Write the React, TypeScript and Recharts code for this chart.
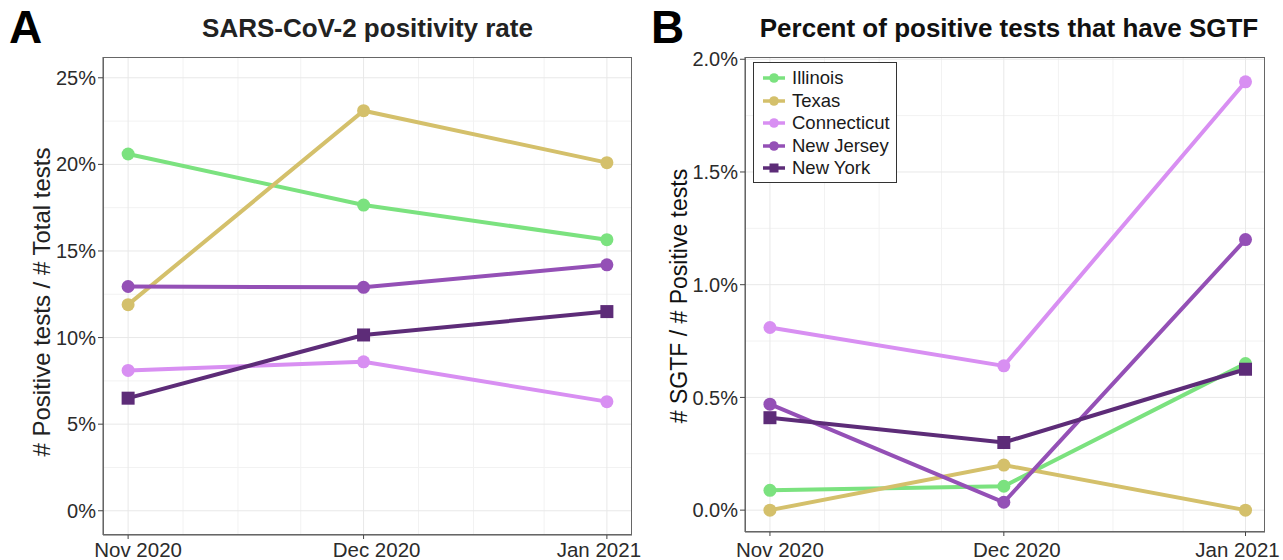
import { LineChart, Line, XAxis, YAxis, CartesianGrid } from "recharts";

// x positions are days since Nov 1 2020
const months = ["Nov 2020", "Dec 2020", "Jan 2021"];
const monthDays = [0, 30, 61];
const weekDays = [7, 14, 22, 37, 44, 53];

const states = ["Illinois", "Texas", "Connecticut", "New Jersey", "New York"];
const stateColors = ["#7be27f", "#d4c06b", "#d88ff2", "#9450b6", "#5d2c78"];

// panel A: positivity rate (%)
const posIllinois = [20.6, 17.65, 15.65];
const posTexas = [11.9, 23.1, 20.1];
const posConnecticut = [8.1, 8.6, 6.3];
const posNewJersey = [12.95, 12.9, 14.2];
const posNewYork = [6.5, 10.15, 11.5];

// panel B: SGTF share of positives (%)
const sgtfIllinois = [0.088, 0.106, 0.65];
const sgtfTexas = [0.0, 0.2, 0.0];
const sgtfConnecticut = [0.81, 0.64, 1.9];
const sgtfNewJersey = [0.47, 0.035, 1.2];
const sgtfNewYork = [0.41, 0.3, 0.625];

const posTicks = [0, 5, 10, 15, 20, 25];
const posMinor = [2.5, 7.5, 12.5, 17.5, 22.5];
const sgtfTicks = [0, 0.5, 1.0, 1.5, 2.0];
const sgtfMinor = [0.25, 0.75, 1.25, 1.75];

const FONT = "'Liberation Sans', Arial, sans-serif";

// the month labels sit a little off their ticks in the original
const labelShift = [10, 13, -8];

function buildRows(series: number[][]) {
  return monthDays.map((day, i) => {
    const row: Record<string, number> = { day };
    states.forEach((s, k) => {
      row[s] = series[k][i];
    });
    return row;
  });
}

const posRows = buildRows([posIllinois, posTexas, posConnecticut, posNewJersey, posNewYork]);
const sgtfRows = buildRows([sgtfIllinois, sgtfTexas, sgtfConnecticut, sgtfNewJersey, sgtfNewYork]);

const squareDot = (color: string) => (props: any) => {
  const { cx, cy, index } = props;
  if (cx == null || cy == null) return <g key={`sq-${index}`} />;
  return <rect key={`sq-${index}`} x={cx - 6.5} y={cy - 6.5} width={13} height={13} fill={color} />;
};

const MonthTick = (props: any) => {
  const { x, y, payload } = props;
  const i = monthDays.indexOf(payload.value);
  return (
    <text x={x + labelShift[i]} y={y} dy="0.71em" textAnchor="middle" fill="#2b2b2b" fontSize={20.5} fontFamily={FONT}>
      {months[i]}
    </text>
  );
};

interface PanelProps {
  rows: Record<string, number>[];
  width: number;
  margin: { top: number; right: number; bottom: number; left: number };
  yWidth: number;
  xHeight: number;
  xTickMargin: number;
  yDomain: [number, number];
  xDomain: [number, number];
  yTicks: number[];
  yMinor: number[];
  fmt: (v: number) => string;
}

function Panel({ rows, width, margin, yWidth, xHeight, xTickMargin, yDomain, xDomain, yTicks, yMinor, fmt }: PanelProps) {
  return (
    <LineChart width={width} height={560} data={rows} margin={margin} style={{ overflow: "visible" }}>
      <CartesianGrid stroke="#f2f2f2" strokeWidth={1} horizontalValues={yMinor} verticalValues={weekDays} />
      <CartesianGrid stroke="#e8e8e8" strokeWidth={1} horizontalValues={yTicks} verticalValues={monthDays} />
      <XAxis
        dataKey="day"
        type="number"
        domain={xDomain}
        ticks={monthDays}
        tick={<MonthTick />}
        tickSize={4}
        tickMargin={xTickMargin}
        tickLine={{ stroke: "#444" }}
        axisLine={{ stroke: "#555" }}
        height={xHeight}
        allowDataOverflow
        interval={0}
      />
      <YAxis
        type="number"
        domain={yDomain}
        ticks={yTicks}
        tickFormatter={fmt}
        tick={{ fill: "#2b2b2b", fontSize: 20, fontFamily: FONT }}
        tickSize={5}
        tickMargin={2}
        tickLine={{ stroke: "#444" }}
        axisLine={{ stroke: "#555" }}
        width={yWidth}
        allowDataOverflow
        interval={0}
      />
      {states.map((s, k) => (
        <Line
          key={s}
          dataKey={s}
          stroke={stateColors[k]}
          strokeWidth={4}
          isAnimationActive={false}
          dot={s === "New York" ? squareDot(stateColors[k]) : { r: 6.5, fill: stateColors[k], stroke: "none" }}
          activeDot={false}
        />
      ))}
    </LineChart>
  );
}

function LegendBox() {
  return (
    <div
      style={{
        position: "absolute",
        left: 753,
        top: 62,
        width: 144,
        height: 121,
        border: "1px solid #333",
        boxSizing: "border-box",
        background: "#fff",
        fontFamily: FONT,
        fontSize: 18.5,
        color: "#1a1a1a",
      }}
    >
      {states.map((s, k) => (
        <div key={s} style={{ position: "absolute", left: 8, top: 4 + k * 22.5, height: 22, display: "flex", alignItems: "center" }}>
          <svg width={24} height={20}>
            <line x1={1} x2={23} y1={10} y2={10} stroke={stateColors[k]} strokeWidth={3.5} />
            {s === "New York" ? (
              <rect x={7.5} y={5.5} width={9} height={9} fill={stateColors[k]} />
            ) : (
              <circle cx={12} cy={10} r={4.8} fill={stateColors[k]} />
            )}
          </svg>
          <span style={{ marginLeft: 6 }}>{s}</span>
        </div>
      ))}
    </div>
  );
}

const abs = (left: number, top: number): React.CSSProperties => ({ position: "absolute", left, top, fontFamily: FONT });

export default function App() {
  return (
    <div style={{ position: "absolute", left: 0, top: 0, width: 1283, height: 560, background: "#fff", overflow: "hidden" }}>
      <div style={{ position: "absolute", left: 0, top: 0 }}>
        <Panel
          rows={posRows}
          width={645}
          margin={{ top: 57, right: 13, bottom: 0, left: 53 }}
          yWidth={50}
          xHeight={25}
          xTickMargin={3}
          yDomain={[-1.4, 26.2]}
          xDomain={[-3.2, 64.2]}
          yTicks={posTicks}
          yMinor={posMinor}
          fmt={(v) => `${v}%`}
        />
      </div>
      <div style={{ position: "absolute", left: 640, top: 0 }}>
        <Panel
          rows={sgtfRows}
          width={643}
          margin={{ top: 57, right: 18, bottom: 0, left: 50 }}
          yWidth={55}
          xHeight={28}
          xTickMargin={6}
          yDomain={[-0.097, 2.01]}
          xDomain={[-3.2, 63.5]}
          yTicks={sgtfTicks}
          yMinor={sgtfMinor}
          fmt={(v) => `${v.toFixed(1)}%`}
        />
      </div>

      <div style={{ ...abs(9, 0), fontSize: 46, fontWeight: 700, color: "#000" }}>A</div>
      <div style={{ ...abs(651, 0), fontSize: 46, fontWeight: 700, color: "#000" }}>B</div>

      <div style={{ ...abs(103, 15), width: 529, textAlign: "center", fontSize: 26, lineHeight: "26px", fontWeight: 700, color: "#222", whiteSpace: "nowrap" }}>
        SARS-CoV-2 positivity rate
      </div>
      <div style={{ ...abs(745, 15), width: 528, textAlign: "center", fontSize: 26, lineHeight: "26px", fontWeight: 700, color: "#111", whiteSpace: "nowrap" }}>
        Percent of positive tests that have SGTF
      </div>

      <div
        style={{
          ...abs(42, 302),
          fontSize: 24,
          color: "#222",
          whiteSpace: "nowrap",
          transform: "translate(-50%, -50%) rotate(-90deg)",
        }}
      >
        # Positive tests / # Total tests
      </div>
      <div
        style={{
          ...abs(679, 296),
          fontSize: 23,
          color: "#111",
          whiteSpace: "nowrap",
          transform: "translate(-50%, -50%) rotate(-90deg)",
        }}
      >
        # SGTF / # Positive tests
      </div>

      <LegendBox />

      {/* panel borders */}
      <div style={{ position: "absolute", left: 103, top: 57, width: 529, height: 478, border: "1px solid #666", boxSizing: "border-box", pointerEvents: "none" }} />
      <div style={{ position: "absolute", left: 745, top: 57, width: 520, height: 475, border: "1px solid #666", boxSizing: "border-box", pointerEvents: "none" }} />
    </div>
  );
}
